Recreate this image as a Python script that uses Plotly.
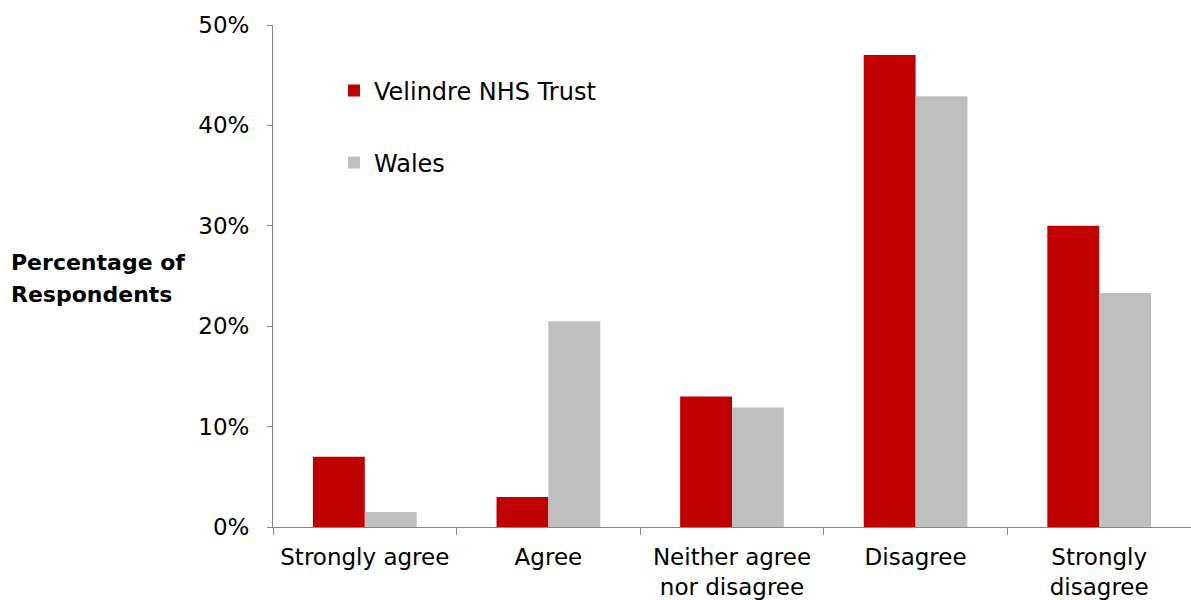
import plotly.graph_objects as go

# Survey responses, share of respondents per answer
categories = ["Strongly agree", "Agree", "Neither agree<br>nor disagree", "Disagree", "Strongly<br>disagree"]
velindre = [0.07, 0.03, 0.13, 0.47, 0.30]
wales = [0.015, 0.205, 0.119, 0.429, 0.233]
y_ticks = [0, 0.1, 0.2, 0.3, 0.4, 0.5]
y_title_lines = ["Percentage of", "Respondents"]

FONT = "DejaVu Sans"
AXIS_GREY = "#878787"

fig = go.Figure()
fig.add_trace(go.Bar(
    x=categories, y=velindre, name="Velindre NHS Trust",
    marker=dict(color="#C00000", line=dict(width=0)),
    legend="legend",
))
fig.add_trace(go.Bar(
    x=categories, y=wales, name="Wales",
    marker=dict(color="#BFBFBF", line=dict(width=0)),
    legend="legend2",
))

W, H = 1191, 600
L, R, T, B = 273, 0, 25, 73
plot_w = W - L - R
plot_h = H - T - B

def px_x(px):
    return (px - L) / plot_w

def px_y(py):
    return (H - B - py) / plot_h

legend_common = dict(
    xanchor="left", yanchor="middle",
    font=dict(family=FONT, size=24, color="#000000"),
    bgcolor="rgba(0,0,0,0)", borderwidth=0,
)

# Two-line bold axis title, one annotation per line
title_annotations = [
    dict(
        text=f"<b>{line}</b>",
        xref="paper", yref="paper",
        x=px_x(9), y=px_y(py),
        xanchor="left", yanchor="middle", align="left",
        showarrow=False,
        font=dict(family=FONT, size=22, color="#000000"),
    )
    for line, py in zip(y_title_lines, [262, 294])
]

fig.update_layout(
    width=W, height=H,
    margin=dict(l=L, r=R, t=T, b=B, pad=0),
    paper_bgcolor="white", plot_bgcolor="white",
    barmode="group", bargap=0.435, bargroupgap=0,
    font=dict(family=FONT, size=23, color="#000000"),
    showlegend=True,
    legend=dict(x=px_x(334), y=px_y(91), **legend_common),
    legend2=dict(x=px_x(334), y=px_y(163), **legend_common),
    xaxis=dict(
        showline=True, linecolor=AXIS_GREY, linewidth=1,
        ticks="outside", tickson="boundaries", ticklen=7,
        tickcolor=AXIS_GREY, tickwidth=1,
        showgrid=False, zeroline=False,
        ticklabelstandoff=9,
        tickfont=dict(family=FONT, size=23, color="#000000"),
    ),
    yaxis=dict(
        range=[0, 0.5], tickvals=y_ticks, tickformat=".0%",
        showline=True, linecolor=AXIS_GREY, linewidth=1,
        ticks="outside", ticklen=5, tickcolor=AXIS_GREY, tickwidth=1,
        showgrid=False, zeroline=False,
        ticklabelstandoff=13,
        tickfont=dict(family=FONT, size=23, color="#000000"),
    ),
    annotations=title_annotations,
)

fig.write_html("out.html")
